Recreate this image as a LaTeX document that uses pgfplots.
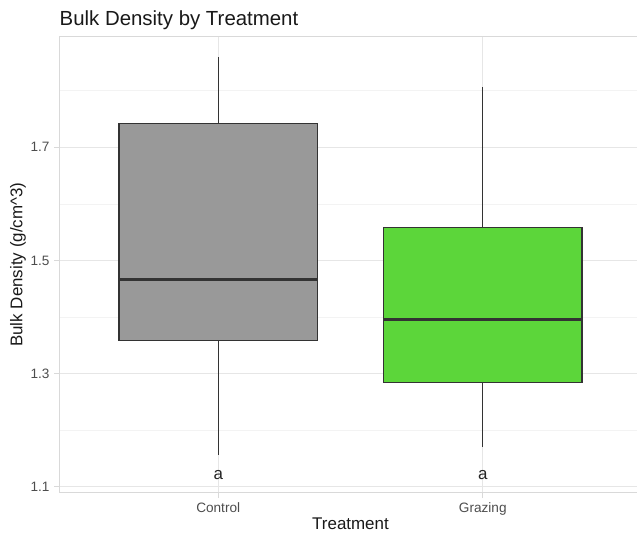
\documentclass[border=0pt]{standalone}
\usepackage{fontspec}
\setmainfont{Liberation Sans}
\usepackage{pgfplots}
\pgfplotsset{compat=1.18}
\usepgfplotslibrary{statistics}

\definecolor{ctrlgray}{HTML}{999999}
\definecolor{grazegreen}{HTML}{5CD63A}
\definecolor{boxline}{HTML}{333333}
\definecolor{gridmaj}{HTML}{E6E6E6}
\definecolor{gridmin}{HTML}{F3F3F3}
\definecolor{panelborder}{HTML}{D9D9D9}
\definecolor{ticktext}{HTML}{4D4D4D}

\begin{document}
\begin{tikzpicture}
\begin{axis}[
    at={(0,0)}, anchor=south west,
    scale only axis,
    width=436.5pt, height=342pt,
    xmin=0.4, xmax=2.6,
    ymin=1.0896, ymax=1.8954,
    xtick={1,2}, xticklabels={Control,Grazing},
    ytick={1.1,1.3,1.5,1.7},
    minor ytick={1.2,1.4,1.6,1.8},
    yticklabel style={/pgf/number format/fixed,
        /pgf/number format/precision=1,
        /pgf/number format/fixed zerofill},
    /pgf/number format/assume math mode=true,
    ticklabel style={font=\fontsize{10.2}{12}\selectfont, text=ticktext},
    tick pos=left,
    tick align=outside,
    major tick length=4pt,
    minor tick length=0pt,
    tick style={panelborder, line width=0.8pt},
    grid=both,
    major grid style={gridmaj, line width=0.8pt},
    minor grid style={gridmin, line width=0.5pt},
    axis line style={panelborder, line width=1.1pt},
    xlabel={Treatment},
    ylabel={Bulk Density (g/cm\textasciicircum 3)},
    label style={font=\fontsize{12.7}{15}\selectfont, text=black!90},
    xlabel style={at={(axis description cs:0.5,-0.0687)}, anchor=center},
    ylabel style={at={(axis description cs:-0.0711,0.5)}, anchor=center},
    title={Bulk Density by Treatment},
    title style={at={(axis description cs:0,1)}, anchor=base west, inner sep=0pt,
        yshift=2.5pt, font=\fontsize{15.3}{18}\selectfont, text=black!90},
    boxplot/draw direction=y,
    boxplot/every median/.style={line width=2.1pt},
]

\addplot[
    boxplot prepared={
        lower whisker=1.157, lower quartile=1.358, median=1.466,
        upper quartile=1.742, upper whisker=1.859,
        draw position=1, box extend=0.75, whisker extend=0},
    fill=ctrlgray, draw=boxline, line width=1pt,
    ] coordinates {};

\addplot[
    boxplot prepared={
        lower whisker=1.171, lower quartile=1.284, median=1.396,
        upper quartile=1.558, upper whisker=1.806,
        draw position=2, box extend=0.75, whisker extend=0},
    fill=grazegreen, draw=boxline, line width=1pt,
    ] coordinates {};

\addplot[
    draw=none, mark=none,
    point meta=explicit symbolic,
    nodes near coords,
    nodes near coords align=center,
    every node near coord/.append style={anchor=center,
        font=\fontsize{12.7}{15}\selectfont, text=black!85},
    ] coordinates {(1,1.12) [a] (2,1.12) [a]};

\end{axis}
\pgfresetboundingbox
\useasboundingbox (-44.6pt,-34.7pt) rectangle (433.1pt,369.5pt);
\end{tikzpicture}
\end{document}
